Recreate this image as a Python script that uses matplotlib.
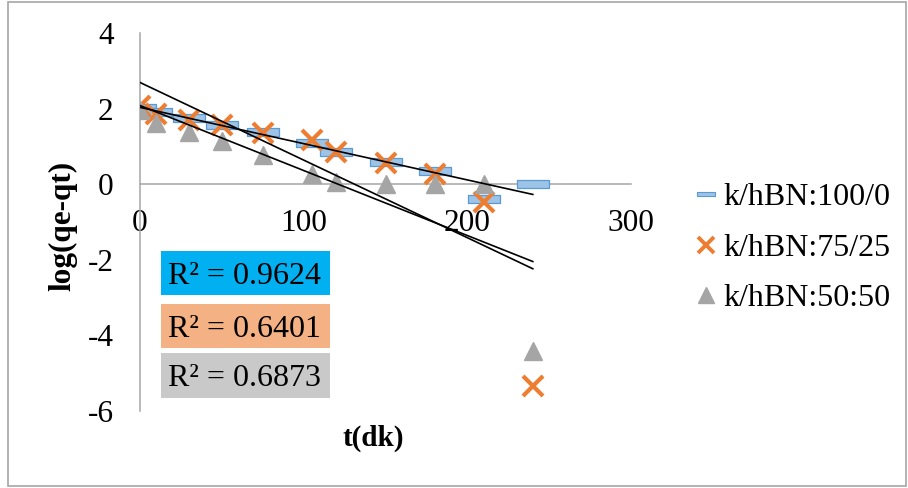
import numpy as np
import matplotlib
matplotlib.use("Agg")
import matplotlib.pyplot as plt
from matplotlib.path import Path
from matplotlib.lines import Line2D
from matplotlib.patches import Rectangle

plt.rcParams['font.family'] = ['Liberation Serif', 'DejaVu Serif']
plt.rcParams['axes.unicode_minus'] = False

# ---- data ----
t = [0, 10, 30, 50, 75, 105, 120, 150, 180, 210, 240]
s100_0 = [2.01, 1.90, 1.76, 1.57, 1.37, 1.10, 0.85, 0.60, 0.35, -0.38, 0.00]
s75_25 = [2.08, 1.85, 1.70, 1.57, 1.36, 1.17, 0.84, 0.55, 0.28, -0.47, -5.35]
s50_50 = [1.96, 1.62, 1.37, 1.15, 0.77, 0.27, 0.05, 0.00, 0.00, 0.00, -4.41]
labels = ['k/hBN:100/0', 'k/hBN:75/25', 'k/hBN:50:50']
r2_texts = ['R² = 0.9624', 'R² = 0.6401', 'R² = 0.6873']
xticks = [0, 100, 200, 300]
yticks = [-6, -4, -2, 0, 2, 4]

W, H = 908, 488
fig = plt.figure(figsize=(W / 100, H / 100), dpi=100)

# outer chart border
fig.patches.append(Rectangle((8 / W, 2 / H), (906 - 8) / W, (486 - 2) / H,
                             transform=fig.transFigure, fill=False,
                             edgecolor='#A6A6A6', linewidth=1.2))

ax = fig.add_axes([140 / W, (H - 411) / H, (631 - 140) / W, (411 - 33) / H])
ax.set_xlim(0, 300)
ax.set_ylim(-6, 4)

# dash-like rectangle marker
rect_marker = Path([(-16, -4), (16, -4), (16, 4), (-16, 4), (-16, -4)],
                   [Path.MOVETO, Path.LINETO, Path.LINETO, Path.LINETO, Path.CLOSEPOLY])

blue_face, blue_edge = '#9DC3E6', '#5B9BD5'
orange = '#ED7D31'
grey = '#A5A5A5'

ax.plot(t, s100_0, linestyle='none', marker=rect_marker, markersize=23,
        markerfacecolor=blue_face, markeredgecolor=blue_edge, markeredgewidth=0.9, zorder=3)
ax.plot(t, s75_25, linestyle='none', marker='x', markersize=14,
        markeredgecolor=orange, markeredgewidth=3.0, zorder=4)
ax.plot(t, s50_50, linestyle='none', marker='^', markersize=13,
        markerfacecolor=grey, markeredgecolor=grey, zorder=5)

# linear trendlines
tt = np.array([min(t), max(t)])
for ys in (s100_0, s75_25, s50_50):
    k, b = np.polyfit(t, ys, 1)
    ax.plot(tt, k * tt + b, color='black', linewidth=1.2, zorder=6)

# axes styling
for sp in ('top', 'right'):
    ax.spines[sp].set_visible(False)
ax.spines['left'].set_position(('data', 0))
ax.spines['bottom'].set_position(('data', 0))
ax.spines['left'].set_color('#A6A6A6')
ax.spines['bottom'].set_color('#A6A6A6')
ax.spines['left'].set_linewidth(1.1)
ax.spines['bottom'].set_linewidth(1.1)
ax.set_xticks(xticks)
ax.set_yticks(yticks)
ax.set_xticklabels([str(v) for v in xticks])
ax.set_yticklabels([str(v) for v in yticks])
ax.tick_params(axis='both', length=0, labelsize=22.5, colors='black')
ax.tick_params(axis='x', pad=18)
ax.tick_params(axis='y', pad=19)

# axis titles
fig.text(63 / W, 1 - 226 / H, 'log(qe-qt)', rotation=90, ha='center', va='center',
         fontsize=22.5, fontweight='bold')
fig.text(373 / W, 1 - 438 / H, 't(dk)', ha='center', va='center',
         fontsize=21, fontweight='bold')

# R² boxes
box_colors = ['#00B0F0', '#F4B183', '#C9C9C9']
box_tops = [251, 304, 353]
box_bottoms = [295, 348, 398]
for txt, c, y0, y1 in zip(r2_texts, box_colors, box_tops, box_bottoms):
    fig.patches.append(Rectangle((161 / W, 1 - y1 / H), (330 - 161) / W, (y1 - y0) / H,
                                 transform=fig.transFigure, facecolor=c, edgecolor='none'))
    fig.text(168 / W, 1 - (y0 + y1) / 2 / H, txt, ha='left', va='center_baseline',
             fontsize=23)

# legend
handles = [
    Line2D([], [], linestyle='none', marker=rect_marker, markersize=13,
           markerfacecolor=blue_face, markeredgecolor=blue_edge, markeredgewidth=0.8),
    Line2D([], [], linestyle='none', marker='x', markersize=11,
           markeredgecolor=orange, markeredgewidth=2.8),
    Line2D([], [], linestyle='none', marker='^', markersize=12,
           markerfacecolor=grey, markeredgecolor=grey),
]
fig.legend(handles, labels, loc='center left', bbox_to_anchor=(696 / W, 1 - 248 / H),
           frameon=False, fontsize=23, handlelength=0.65, handletextpad=0.2,
           labelspacing=0.67, borderpad=0, borderaxespad=0)

fig.savefig('out.png', dpi=100)
